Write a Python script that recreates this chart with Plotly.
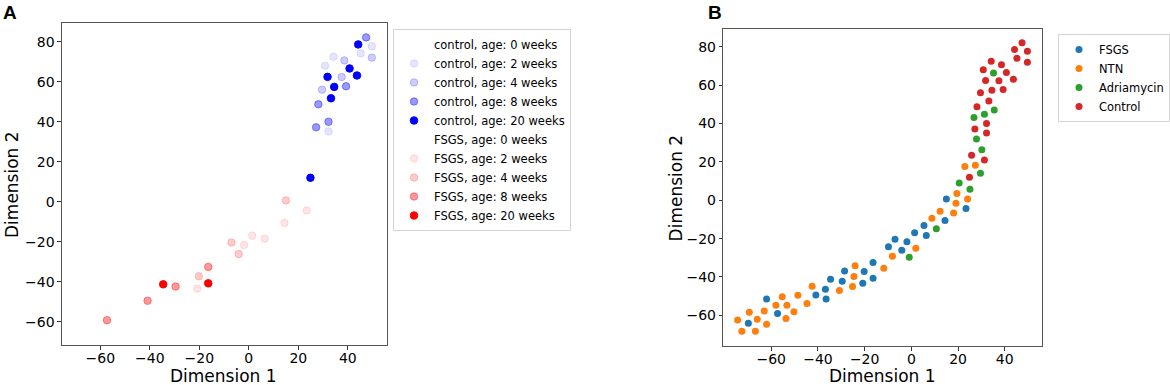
import plotly.graph_objects as go

# t-SNE coordinates
control_x = [47.4, 44.2, 49.7, 45.2, 49.7, 34.2, 30.8, 38.6, 40.7, 43.7, 31.8, 37.5,
             34.5, 39.3, 29.6, 33.2, 28.1, 32.2, 27.2, 32.2, 25.8, 31.3, 24.9]
control_y = [82.1, 78.6, 77.7, 74.1, 72.0, 72.5, 68.0, 70.6, 66.6, 63.1, 62.4, 62.3,
             57.4, 57.7, 56.0, 51.7, 48.7, 40.0, 37.2, 35.1, 23.5, 21.0, 12.0]
control_age = [8, 20, 2, 2, 4, 2, 2, 4, 20, 20, 20, 4,
               20, 8, 4, 20, 8, 8, 8, 2, 0, 0, 20]

fsgs_x = [-69.8, -62.0, -57.3, -40.9, -36.8, -36.5, -34.6, -28.6, -29.6, -20.2, -20.8, -16.4,
          -16.4, -9.8, -7.0, -4.1, -1.9, 1.4, 5.4, 6.4, 14.4, 15.0, 23.4]
fsgs_y = [-64.2, -51.5, -59.1, -49.4, -46.4, -51.5, -41.2, -36.9, -42.3, -37.2, -43.3, -32.5,
          -40.7, -24.3, -20.3, -26.1, -21.6, -16.9, -13.2, -18.4, -10.6, 0.7, -4.3]
fsgs_age = [0, 0, 8, 8, 0, 0, 20, 0, 8, 4, 2, 8,
            20, 0, 4, 4, 2, 2, 0, 2, 2, 4, 2]

ntn_x = [-74.4, -72.6, -69.4, -66.0, -66.8, -63.0, -62.0, -58.0, -55.3, -53.3, -53.7, -50.3,
         -48.6, -44.7, -42.5, -30.8, -25.2, -24.6, -24.1, -11.8, -8.1, 1.9, 8.8, 12.3,
         18.1, 19.1, 19.5, 24.1, 22.9, 27.4]
ntn_y = [-62.4, -68.3, -58.4, -62.1, -68.3, -57.7, -64.7, -54.8, -50.3, -54.8, -61.7, -58.1,
         -49.6, -53.9, -44.9, -47.1, -45.0, -39.8, -34.1, -35.5, -29.2, -25.0, -9.4, -5.7,
         -6.6, -1.6, 3.5, 0.7, 17.6, 18.3]

adria_x = [-0.9, 10.7, 20.5, 25.1, 29.6, 30.2, 27.9, 26.8, 31.3, 35.5, 35.2]
adria_y = [-29.7, -14.8, 9.0, 5.7, 14.1, 26.3, 32.0, 43.1, 44.9, 47.0, 66.4]

ages = [0, 2, 4, 8, 20]

FONT = "DejaVu Sans"
W, H = 1170, 385


def fx(px):
    return px / W


def fy(py):
    return 1 - py / H


fig = go.Figure()

# panel A: colour by condition, transparency by age
for name, xs, ys, ag, rgb in [("control", control_x, control_y, control_age, "0,0,255"),
                              ("FSGS", fsgs_x, fsgs_y, fsgs_age, "255,0,0")]:
    for a in ages:
        px = [x for x, g in zip(xs, ag) if g == a]
        py = [y for y, g in zip(ys, ag) if g == a]
        col = "rgba(%s,%.2f)" % (rgb, a / 20)
        fig.add_trace(go.Scatter(
            x=px, y=py, mode="markers",
            name="%s, age: %d weeks" % (name, a),
            marker=dict(size=7.5, color=col, line=dict(color=col, width=1)),
            xaxis="x", yaxis="y", legend="legend"))

# panel B: colour by model
for name, xs, ys, col in [("FSGS", fsgs_x, fsgs_y, "#1f77b4"),
                          ("NTN", ntn_x, ntn_y, "#ff7f0e"),
                          ("Adriamycin", adria_x, adria_y, "#2ca02c"),
                          ("Control", control_x, control_y, "#d62728")]:
    fig.add_trace(go.Scatter(
        x=xs, y=ys, mode="markers", name=name,
        marker=dict(size=7, color=col, line=dict(width=0)),
        xaxis="x2", yaxis="y2", legend="legend2"))

axis_style = dict(showline=True, mirror=True, linecolor="#555", linewidth=1.2,
                  ticks="outside", ticklen=3.5, tickcolor="#333", showgrid=False,
                  zeroline=False, tickfont=dict(family=FONT, size=14, color="black"),
                  tickvals=[-60, -40, -20, 0, 20, 40, 60, 80])

legend_style = dict(bgcolor="white", bordercolor="#d5d5d5", borderwidth=1,
                    font=dict(family=FONT, size=11.5, color="black"),
                    xanchor="left", yanchor="top")

fig.update_layout(
    width=W, height=H, autosize=False,
    margin=dict(l=0, r=0, t=0, b=0),
    plot_bgcolor="white", paper_bgcolor="white",
    xaxis=dict(domain=[fx(62), fx(387)], range=[-75.5, 55.7], anchor="y",
               ticklabelstandoff=-3, **axis_style),
    yaxis=dict(domain=[fy(345), fy(23)], range=[-71.5, 89.3], anchor="x", **axis_style),
    xaxis2=dict(domain=[fx(724), fx(1043)], range=[-80.5, 56.0], anchor="y2",
                ticklabelstandoff=-3, **axis_style),
    yaxis2=dict(domain=[fy(346), fy(29)], range=[-76.0, 89.3], anchor="x2", **axis_style),
    legend=dict(x=fx(393), y=fy(29), **legend_style),
    legend2=dict(x=fx(1059), y=fy(34), **legend_style),
    showlegend=True,
)

title_font = dict(family=FONT, size=17, color="black")
notes = [
    dict(text="Dimension 1", x=fx(224), y=fy(375.5)),
    dict(text="Dimension 2", x=fx(12), y=fy(184), textangle=-90),
    dict(text="Dimension 1", x=fx(883), y=fy(375.5)),
    dict(text="Dimension 2", x=fx(677), y=fy(188), textangle=-90),
]
for n in notes:
    fig.add_annotation(xref="paper", yref="paper", showarrow=False,
                       xanchor="center", yanchor="middle", font=title_font, **n)

for letter, lx in [("A", 10), ("B", 716)]:
    fig.add_annotation(text="<b>%s</b>" % letter, xref="paper", yref="paper",
                       x=fx(lx), y=fy(12), showarrow=False,
                       xanchor="center", yanchor="middle",
                       font=dict(family="Liberation Sans", size=19, color="black"))

# drop the browser's default 8px body margin so the figure sits at the page corner
fig.write_html("out.html", config={"displayModeBar": False},
               post_script="document.body.style.margin = '0';")
